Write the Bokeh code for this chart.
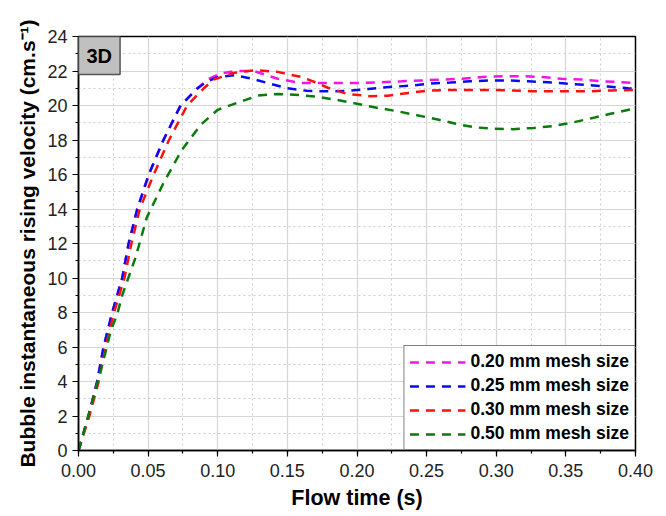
from bokeh.plotting import figure
from bokeh.models import Range1d, SingleIntervalTicker, PrintfTickFormatter, Label, Legend, LegendItem
from bokeh.embed import file_html
from bokeh.resources import INLINE

# ---- data ----
t_020 = [0, 0.0072, 0.0134, 0.018, 0.0242, 0.0314, 0.036, 0.0422, 0.0505, 0.061, 0.0733, 0.0855, 0.0925,
         0.102, 0.113, 0.126, 0.143, 0.16, 0.174, 0.19, 0.203, 0.217, 0.232, 0.246, 0.26, 0.275, 0.29,
         0.304, 0.318, 0.333, 0.347, 0.362, 0.377, 0.39, 0.4]
v_020 = [0, 2, 4, 6, 8, 10, 12, 14, 16, 18, 20, 21, 21.5,
         21.85, 22.0, 22.0, 21.55, 21.3, 21.3, 21.3, 21.3, 21.35, 21.4, 21.45, 21.5, 21.55, 21.65,
         21.7, 21.7, 21.65, 21.55, 21.5, 21.4, 21.35, 21.3]

t_025 = [0, 0.0072, 0.0134, 0.018, 0.0242, 0.0314, 0.036, 0.0422, 0.0505, 0.061, 0.0733, 0.0855, 0.0925,
         0.1, 0.112, 0.122, 0.136, 0.15, 0.164, 0.177, 0.194, 0.208, 0.223, 0.238, 0.253, 0.267, 0.281,
         0.295, 0.309, 0.323, 0.337, 0.35, 0.366, 0.38, 0.395, 0.4]
v_025 = [0, 2, 4, 6, 8, 10, 12, 14, 16, 18, 20, 21, 21.4,
         21.65, 21.75, 21.6, 21.3, 21.0, 20.85, 20.82, 20.85, 20.96, 21.07, 21.15, 21.27, 21.33, 21.4,
         21.45, 21.45, 21.4, 21.35, 21.27, 21.18, 21.1, 21.0, 20.97]

t_030 = [0, 0.0078, 0.0145, 0.0195, 0.0255, 0.033, 0.038, 0.044, 0.054, 0.065, 0.078, 0.09, 0.097,
         0.112, 0.128, 0.143, 0.16, 0.17, 0.179, 0.193, 0.209, 0.222, 0.237, 0.252, 0.267, 0.281,
         0.296, 0.31, 0.325, 0.339, 0.354, 0.368, 0.383, 0.397, 0.4]
v_030 = [0, 2, 4, 6, 8, 10, 12, 14, 16, 18, 20, 21, 21.5,
         21.9, 22.05, 21.95, 21.65, 21.35, 21.03, 20.67, 20.54, 20.57, 20.73, 20.87, 20.9, 20.9,
         20.9, 20.87, 20.83, 20.83, 20.83, 20.83, 20.87, 20.9, 20.9]

t_050 = [0, 0.0122, 0.0158, 0.0194, 0.023, 0.0278, 0.0314, 0.036, 0.041, 0.049, 0.061, 0.074, 0.088,
         0.1, 0.119, 0.129, 0.143, 0.16, 0.174, 0.187, 0.2, 0.215, 0.23, 0.244, 0.258, 0.271, 0.284,
         0.298, 0.312, 0.327, 0.34, 0.354, 0.369, 0.382, 0.396, 0.4]
v_050 = [0, 3.5, 4.6, 5.7, 6.9, 7.9, 9.0, 10.05, 11.2, 13.5, 15.5, 17.4, 18.9,
         19.75, 20.3, 20.58, 20.67, 20.6, 20.48, 20.3, 20.1, 19.86, 19.65, 19.42, 19.19, 18.94, 18.74,
         18.65, 18.63, 18.7, 18.8, 19.0, 19.27, 19.52, 19.77, 19.85]

series_labels = ["0.20 mm mesh size", "0.25 mm mesh size", "0.30 mm mesh size", "0.50 mm mesh size"]
series_colors = ["#F514E6", "#0A0AF0", "#FF1010", "#0A7A0A"]
x_ticks_interval = 0.05
y_ticks_interval = 2

FONT = "Liberation Sans"

p = figure(width=666, height=516, output_backend="svg", toolbar_location=None,
           x_range=Range1d(0, 0.4), y_range=Range1d(0, 24),
           min_border_left=78, min_border_right=31, min_border_top=36, min_border_bottom=66)

p.background_fill_color = "white"
p.border_fill_color = "white"
p.outline_line_color = "black"
p.outline_line_width = 1.5

p.xaxis.ticker = SingleIntervalTicker(interval=x_ticks_interval, num_minor_ticks=2)
p.yaxis.ticker = SingleIntervalTicker(interval=y_ticks_interval, num_minor_ticks=2)
p.xaxis.formatter = PrintfTickFormatter(format="%.2f")

for ax in (p.xaxis[0], p.yaxis[0]):
    ax.axis_line_color = "black"
    ax.axis_line_width = 1.5
    ax.major_tick_line_color = "black"
    ax.minor_tick_line_color = "black"
    ax.major_tick_line_width = 1.2
    ax.minor_tick_line_width = 1.2
    ax.major_tick_out = 6
    ax.major_tick_in = 0
    ax.minor_tick_out = 3
    ax.minor_tick_in = 0
    ax.major_label_text_font = FONT
    ax.major_label_text_font_size = "18px"
    ax.major_label_text_color = "#222222"
    ax.axis_label_text_font = FONT
    ax.axis_label_text_font_style = "bold"
    ax.axis_label_text_color = "black"

p.xaxis.axis_label_text_font_size = "21.5px"
p.yaxis.axis_label_text_font_size = "21px"
p.xaxis.axis_label = "Flow time (s)"
p.yaxis.axis_label = "Bubble instantaneous rising velocity (cm.s\u207b\u00b9)"
p.xaxis.major_label_standoff = 7
p.yaxis.major_label_standoff = 5
p.xaxis.axis_label_standoff = 6
p.yaxis.axis_label_standoff = 5

for g in (p.xgrid[0], p.ygrid[0]):
    g.grid_line_color = "#d6d6d6"
    g.grid_line_width = 1.2
    g.minor_grid_line_color = "#cccccc"
    g.minor_grid_line_dash = "2 3"
    g.minor_grid_line_width = 1

renderers = []
for xs, ys, c in zip([t_020, t_025, t_030, t_050], [v_020, v_025, v_030, v_050], series_colors):
    r = p.line(xs, ys, line_color=c, line_width=2.5, line_dash="9 7")
    renderers.append(r)

legend = Legend(items=[LegendItem(label=lab, renderers=[r]) for lab, r in zip(series_labels, renderers)],
                location="bottom_right")
legend.margin = 0
legend.padding = 5
legend.spacing = 3
legend.label_height = 20
legend.glyph_width = 56
legend.glyph_height = 20
legend.label_standoff = 5
legend.label_text_font = FONT
legend.label_text_font_size = "17.5px"
legend.label_text_font_style = "bold"
legend.label_text_color = "black"
legend.border_line_color = "black"
legend.border_line_width = 1.5
legend.background_fill_color = "white"
legend.background_fill_alpha = 1
p.add_layout(legend)

lab3d = Label(x=0, y=24, x_units="data", y_units="data", text="3D", anchor="top_left",
              text_font=FONT, text_font_size="20px", text_font_style="bold", text_color="black",
              padding=8, background_fill_color="#c0c0c0", border_line_color="#555555",
              border_line_width=1.5)
p.add_layout(lab3d)

open("out.html", "w").write(file_html(p, INLINE))
